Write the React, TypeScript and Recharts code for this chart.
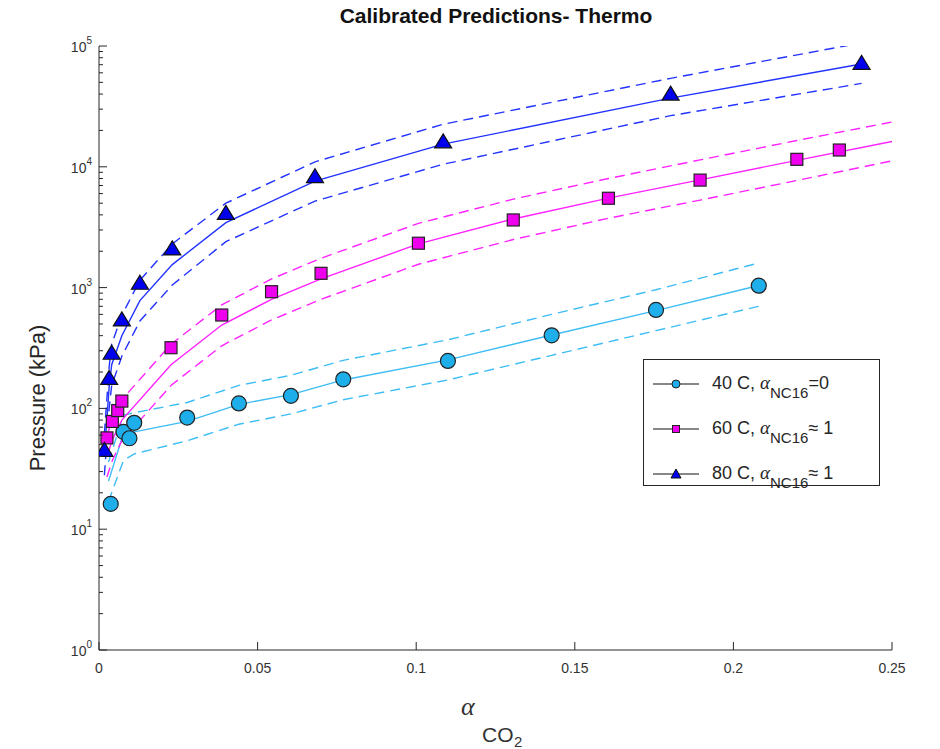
import React from "react";
import { ComposedChart, Line, Scatter, XAxis, YAxis } from "recharts";

// measured points
const x40 = [0.0037, 0.0077, 0.0096, 0.0111, 0.0278, 0.0441, 0.0605, 0.077, 0.110, 0.1427, 0.1756, 0.208];
const p40 = [16.2, 64, 56.6, 76, 84, 110, 127, 174, 247, 403, 653, 1037];

const x60 = [0.0025, 0.0042, 0.0059, 0.0072, 0.0227, 0.0387, 0.0544, 0.070, 0.1007, 0.1306, 0.1606, 0.1895, 0.22, 0.2334];
const p60 = [57, 78, 96, 115, 318, 593, 925, 1313, 2330, 3630, 5490, 7760, 11530, 13770];

const x80 = [0.0017, 0.0032, 0.004, 0.0072, 0.0129, 0.0231, 0.040, 0.0681, 0.1085, 0.1802, 0.2404];
const p80 = [45, 177, 286, 540, 1086, 2090, 4120, 8280, 16100, 40000, 71900];

// model predictions (solid) with upper / lower bands (dashed)
const m40x = [0.003, 0.0077, 0.0111, 0.0278, 0.0441, 0.0605, 0.077, 0.110, 0.1427, 0.1756, 0.208];
const m40mid = [25, 62, 64, 78, 108, 130, 172, 252, 405, 645, 1040];
const m40hi = [36, 88, 92, 112, 155, 188, 250, 370, 600, 960, 1600];
const m40lo = [17, 37, 42, 54, 74, 90, 118, 172, 275, 440, 700];

const m60x = [0.0025, 0.0042, 0.0059, 0.0072, 0.0227, 0.0387, 0.0544, 0.070, 0.1007, 0.1306, 0.1606, 0.1895, 0.22, 0.25];
const m60mid = [40, 55, 68, 80, 230, 490, 800, 1180, 2300, 3700, 5500, 7800, 11300, 16200];
const m60hi = [60, 80, 100, 118, 340, 720, 1180, 1750, 3400, 5400, 8000, 11400, 16500, 23500];
const m60lo = [27, 37, 46, 54, 155, 330, 540, 800, 1560, 2500, 3750, 5300, 7700, 11200];

const m80x = [0.0017, 0.0032, 0.004, 0.0072, 0.0129, 0.0231, 0.040, 0.0681, 0.1085, 0.1802, 0.2404];
const m80mid = [42, 150, 230, 400, 780, 1550, 3450, 7600, 15400, 37000, 71000];
const m80hi = [62, 220, 340, 590, 1150, 2300, 5000, 11000, 22500, 54000, 106000];
const m80lo = [28, 100, 155, 270, 530, 1050, 2400, 5200, 10500, 26500, 49000];

const xTicks = [0, 0.05, 0.1, 0.15, 0.2, 0.25];
const xTickLabels = ["0", "0.05", "0.1", "0.15", "0.2", "0.25"];
const yMajor = [1, 10, 100, 1000, 10000, 100000];

const yTicks: number[] = [];
for (let e = 0; e < 5; e++) {
  for (let m = 1; m < 10; m++) yTicks.push(m * Math.pow(10, e));
}
yTicks.push(100000);

const pts = (xs: number[], ys: number[]) => xs.map((x, i) => ({ x, y: ys[i] }));
const model = (xs: number[], mid: number[], hi: number[], lo: number[]) =>
  xs.map((x, i) => ({ x, mid: mid[i], hi: hi[i], lo: lo[i] }));

const d40 = pts(x40, p40);
const d60 = pts(x60, p60);
const d80 = pts(x80, p80);
const md40 = model(m40x, m40mid, m40hi, m40lo);
const md60 = model(m60x, m60mid, m60hi, m60lo);
const md80 = model(m80x, m80mid, m80hi, m80lo);

const C40 = "#3dbdf5";
const F40 = "#1eaeea";
const C60 = "#ff22ff";
const F60 = "#ee00ee";
const C80 = "#2233ff";
const F80 = "#0000ee";
const AX = "#262626";
const FONT = "'Liberation Sans', Arial, Helvetica, sans-serif";

const CircleMark = (p: any) => (
  <circle cx={p.cx} cy={p.cy} r={7.5} fill={F40} stroke="#222" strokeWidth={1.2} />
);
const SquareMark = (p: any) => (
  <rect x={p.cx - 6} y={p.cy - 6} width={12} height={12} fill={F60} stroke="#222" strokeWidth={1.2} />
);
const TriMark = (p: any) => (
  <polygon
    points={`${p.cx},${p.cy - 8} ${p.cx + 8.5},${p.cy + 6} ${p.cx - 8.5},${p.cy + 6}`}
    fill={F80}
    stroke="#111"
    strokeWidth={1.2}
  />
);

const isMajor = (v: number) => yMajor.includes(v);

const BottomTick = (p: any) => {
  const i = xTicks.indexOf(p.payload.value);
  return (
    <g>
      <line x1={p.x} x2={p.x} y1={p.y} y2={p.y - 8} stroke={AX} />
      <text x={p.x} y={p.y + 23} textAnchor="middle" fontSize={14} fill="#333" fontFamily={FONT}>
        {xTickLabels[i]}
      </text>
    </g>
  );
};
const TopTick = (p: any) => <line x1={p.x} x2={p.x} y1={p.y} y2={p.y + 8} stroke={AX} />;

const LeftTick = (p: any) => {
  const v = p.payload.value;
  const major = isMajor(v);
  const e = Math.round(Math.log10(v));
  return (
    <g>
      <line x1={p.x} x2={p.x + (major ? 8 : 4)} y1={p.y} y2={p.y} stroke={AX} />
      {major && (
        <text x={p.x - 7} y={p.y + 6} textAnchor="end" fontSize={14} fill="#333" fontFamily={FONT}>
          10
          <tspan dy={-8} fontSize={10}>
            {e}
          </tspan>
        </text>
      )}
    </g>
  );
};
const RightTick = (p: any) => {
  const major = isMajor(p.payload.value);
  return <line x1={p.x} x2={p.x - (major ? 8 : 4)} y1={p.y} y2={p.y} stroke={AX} />;
};

const legendRows = [
  { t: "40 C, ", tail: "=0", kind: "c" },
  { t: "60 C, ", tail: "\u2248 1", kind: "s" },
  { t: "80 C, ", tail: "\u2248 1", kind: "t" },
];

const LegendMark = ({ kind }: { kind: string }) => (
  <svg width={48} height={16} style={{ display: "block" }}>
    <line x1={1} x2={47} y1={8} y2={8} stroke="#111" strokeWidth={1.2} />
    {kind === "c" && <circle cx={24} cy={8} r={4} fill={F40} stroke="#222" />}
    {kind === "s" && <rect x={20.5} y={4.5} width={7} height={7} fill={F60} stroke="#222" />}
    {kind === "t" && <polygon points="24,3 29,12 19,12" fill={F80} stroke="#111" />}
  </svg>
);

export default function App() {
  const dash = "10 6";
  return (
    <div style={{ position: "absolute", left: 0, top: 0, width: 940, height: 749, background: "#fff", fontFamily: FONT, overflow: "hidden" }}>
      <div
        style={{
          position: "absolute",
          left: 0,
          width: 992,
          top: 4,
          textAlign: "center",
          fontWeight: "bold",
          fontSize: 21,
          color: "#111",
        }}
      >
        Calibrated Predictions- Thermo
      </div>
      <div
        style={{
          position: "absolute",
          left: 38,
          top: 398,
          transform: "translate(-50%, -50%) rotate(-90deg)",
          fontSize: 22,
          color: "#262626",
          whiteSpace: "nowrap",
        }}
      >
        Pressure (kPa)
      </div>
      <div style={{ position: "absolute", left: 461, top: 692, fontSize: 26, fontStyle: "italic", fontFamily: "'Liberation Serif', serif", color: "#333" }}>
        α
      </div>
      <div style={{ position: "absolute", left: 482, top: 724, fontSize: 21, lineHeight: "21px", color: "#333" }}>CO</div>
      <div style={{ position: "absolute", left: 514, top: 734, fontSize: 15, lineHeight: "15px", color: "#333" }}>2</div>

      <ComposedChart width={940} height={749} margin={{ top: 46, right: 48, bottom: 0, left: 0 }}>
        <XAxis
          xAxisId="b"
          dataKey="x"
          type="number"
          domain={[0, 0.25]}
          ticks={xTicks}
          interval={0}
          allowDataOverflow
          height={99}
          tickSize={0}
          tickMargin={0}
          tickLine={false}
          axisLine={{ stroke: AX }}
          tick={<BottomTick />}
        />
        <XAxis
          xAxisId="t"
          orientation="top"
          dataKey="x"
          type="number"
          domain={[0, 0.25]}
          ticks={xTicks}
          interval={0}
          allowDataOverflow
          height={0}
          tickSize={0}
          tickMargin={0}
          tickLine={false}
          axisLine={{ stroke: AX }}
          tick={<TopTick />}
        />
        <YAxis
          yAxisId="l"
          dataKey="y"
          scale="log"
          domain={[1, 100000]}
          ticks={yTicks}
          interval={0}
          allowDataOverflow
          width={99}
          tickSize={0}
          tickMargin={0}
          tickLine={false}
          axisLine={{ stroke: AX }}
          tick={<LeftTick />}
        />
        <YAxis
          yAxisId="r"
          orientation="right"
          scale="log"
          domain={[1, 100000]}
          ticks={yTicks}
          interval={0}
          allowDataOverflow
          width={0}
          tickSize={0}
          tickMargin={0}
          tickLine={false}
          axisLine={{ stroke: AX }}
          tick={<RightTick />}
        />

        <Line data={md40} dataKey="hi" xAxisId="b" yAxisId="l" type="linear" stroke={C40} strokeWidth={1.4} strokeDasharray={dash} dot={false} isAnimationActive={false} />
        <Line data={md40} dataKey="lo" xAxisId="b" yAxisId="l" type="linear" stroke={C40} strokeWidth={1.4} strokeDasharray={dash} dot={false} isAnimationActive={false} />
        <Line data={md40} dataKey="mid" xAxisId="b" yAxisId="l" type="linear" stroke={C40} strokeWidth={1.4} dot={false} isAnimationActive={false} />

        <Line data={md60} dataKey="hi" xAxisId="b" yAxisId="l" type="linear" stroke={C60} strokeWidth={1.4} strokeDasharray={dash} dot={false} isAnimationActive={false} />
        <Line data={md60} dataKey="lo" xAxisId="b" yAxisId="l" type="linear" stroke={C60} strokeWidth={1.4} strokeDasharray={dash} dot={false} isAnimationActive={false} />
        <Line data={md60} dataKey="mid" xAxisId="b" yAxisId="l" type="linear" stroke={C60} strokeWidth={1.4} dot={false} isAnimationActive={false} />

        <Line data={md80} dataKey="hi" xAxisId="b" yAxisId="l" type="linear" stroke={C80} strokeWidth={1.4} strokeDasharray={dash} dot={false} isAnimationActive={false} />
        <Line data={md80} dataKey="lo" xAxisId="b" yAxisId="l" type="linear" stroke={C80} strokeWidth={1.4} strokeDasharray={dash} dot={false} isAnimationActive={false} />
        <Line data={md80} dataKey="mid" xAxisId="b" yAxisId="l" type="linear" stroke={C80} strokeWidth={1.4} dot={false} isAnimationActive={false} />

        <Scatter data={d40} dataKey="y" xAxisId="b" yAxisId="l" shape={CircleMark} isAnimationActive={false} />
        <Scatter data={d60} dataKey="y" xAxisId="b" yAxisId="l" shape={SquareMark} isAnimationActive={false} />
        <Scatter data={d80} dataKey="y" xAxisId="b" yAxisId="l" shape={TriMark} isAnimationActive={false} />
      </ComposedChart>

      <div
        style={{
          position: "absolute",
          left: 643,
          top: 359,
          width: 235,
          height: 125,
          border: `1px solid ${AX}`,
          background: "#fff",
        }}
      >
        {legendRows.map((r, i) => (
          <div key={i} style={{ position: "absolute", left: 8, top: 13 + i * 45, display: "flex", alignItems: "center", whiteSpace: "nowrap" }}>
            <LegendMark kind={r.kind} />
            <span style={{ marginLeft: 12, fontSize: 18, color: "#262626", lineHeight: "20px" }}>
              {r.t}
              <span style={{ fontFamily: "'Liberation Serif', serif", fontStyle: "italic", fontSize: 19 }}>α</span>
              <span style={{ position: "relative", top: 9, fontSize: 15 }}>NC16</span>
              {r.tail}
            </span>
          </div>
        ))}
      </div>
    </div>
  );
}
